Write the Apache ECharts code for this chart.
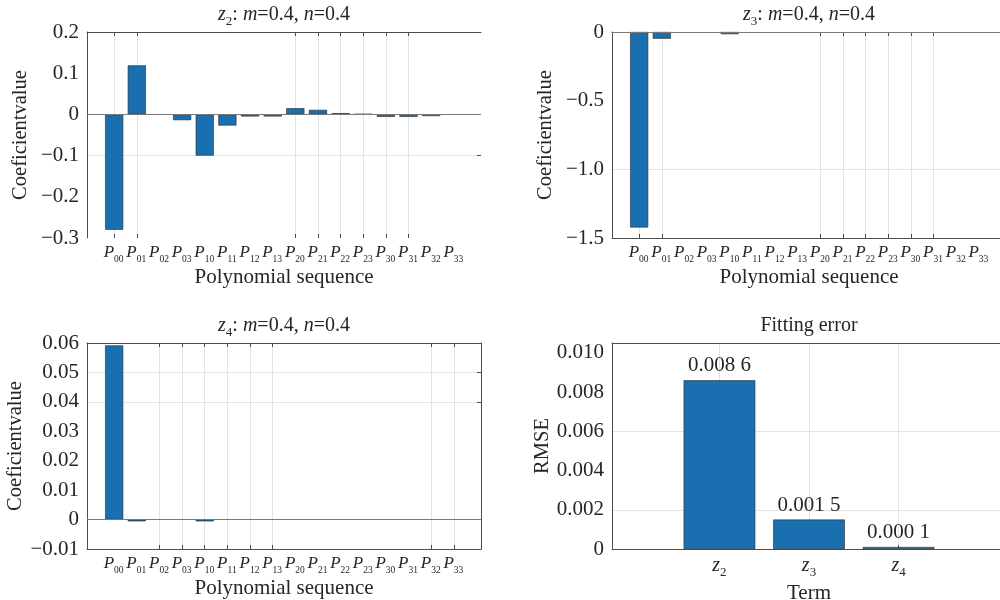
<!DOCTYPE html>
<html>
<head>
<meta charset="utf-8">
<script src="https://cdn.jsdelivr.net/npm/echarts@6/dist/echarts.min.js"></script>
<style>
  html, body { margin: 0; padding: 0; background: #fff; }
  #chart { width: 1000px; height: 600px; }
</style>
</head>
<body>
<div id="chart"></div>
<script>
// 多项式系数（P00 ... P33）
const polyTerms = ['00', '01', '02', '03', '10', '11', '12', '13', '20', '21', '22', '23', '30', '31', '32', '33'];
const z2Coef = [-0.28, 0.119, 0, -0.014, -0.1, -0.027, -0.005, -0.005, 0.015, 0.011, 0.003, 0.001, -0.006, -0.006, -0.004, 0];
const z3Coef = [-1.423, -0.049, 0, 0, -0.016, 0, 0, 0, 0, 0, 0, 0, 0, 0, 0, 0];
const z4Coef = [0.0592, -0.0006, 0, 0, -0.0006, 0, 0, 0, 0, 0, 0, 0, 0, 0, 0, 0];

// 拟合误差
const errTerms = ['2', '3', '4'];
const rmse = [0.0086, 0.0015, 0.0001];
const rmseLabels = ['0.008 6', '0.001 5', '0.000 1'];

// 纵轴刻度与刻度文字
const z2Ticks = [-0.3, -0.2, -0.1, 0, 0.1, 0.2];
const z2TickLabels = ['\u22120.3', '\u22120.2', '\u22120.1', '0', '0.1', '0.2'];
const z3Ticks = [-1.5, -1, -0.5, 0];
const z3TickLabels = ['\u22121.5', '\u22121.0', '\u22120.5', '0'];
const z4Ticks = [-0.01, 0, 0.01, 0.02, 0.03, 0.04, 0.05, 0.06];
const z4TickLabels = ['\u22120.01', '0', '0.01', '0.02', '0.03', '0.04', '0.05', '0.06'];
const rmseTicks = [0, 0.002, 0.004, 0.006, 0.008, 0.01];
const rmseTickLabels = ['0', '0.002', '0.004', '0.006', '0.008', '0.010'];

// 原图中可见的网格线位置（其余被遮挡/缺失）
const z2GridX = [1, 2, 9, 10, 11, 12, 13, 14];
const z2GridY = [-0.1];
const z3GridX = [1, 2, 9, 10, 11, 12, 13, 14];
const z3GridY = [-1];
const z4GridX = [3, 4, 5, 6, 7, 8, 15, 16];
const z4GridY = [0.04, 0.05];
const rmseGridX = [1, 2, 3];
const rmseGridY = [0.002, 0.006];

const FONT = 'Liberation Serif';
const TXT = '#262626';
const AXIS = '#4d4d4d';
const GRIDC = '#e3e3e3';
const BAR = '#1a6fb0';

const rich = {
  i: { fontFamily: FONT, fontStyle: 'italic', fontSize: 20, color: TXT, verticalAlign: 'top', lineHeight: 22 },
  n: { fontFamily: FONT, fontSize: 20, color: TXT, verticalAlign: 'top', lineHeight: 22 },
  s: { fontFamily: FONT, fontSize: 13, color: TXT, verticalAlign: 'top', lineHeight: 14, padding: [10, 0, 0, 0] },
  p: { fontFamily: FONT, fontStyle: 'italic', fontSize: 17, color: TXT, verticalAlign: 'top', lineHeight: 19 },
  ps: { fontFamily: FONT, fontSize: 9.5, color: TXT, verticalAlign: 'top', lineHeight: 10, padding: [10, 1, 0, 0] },
};

function pickLabel(ticks, labels) {
  return v => {
    const i = ticks.findIndex(t => Math.abs(t - v) < 1e-9);
    return i < 0 ? '' : labels[i];
  };
}

// 右侧两幅图在原图中超出画布右边缘，故 width 让其越界
const panels = [
  { grid: { left: 87, top: 32, width: 394, height: 206 }, title: '{i|z}{s|2}{n|: }{i|m}{n|=0.4, }{i|n}{n|=0.4}',
    values: z2Coef, xMax: 17.2, yTicks: z2Ticks, yLabels: z2TickLabels, gridX: z2GridX, gridY: z2GridY,
    box: { top: true, bottom: false, right: false }, yName: 'Coeficientvalue', xName: 'Polynomial sequence' },
  { grid: { left: 612, top: 32, width: 394, height: 206 }, title: '{i|z}{s|3}{n|: }{i|m}{n|=0.4, }{i|n}{n|=0.4}',
    values: z3Coef, xMax: 17.2, yTicks: z3Ticks, yLabels: z3TickLabels, gridX: z3GridX, gridY: z3GridY,
    box: { top: true, bottom: true, right: true }, yName: 'Coeficientvalue', xName: 'Polynomial sequence' },
  { grid: { left: 87, top: 343, width: 394, height: 206 }, title: '{i|z}{s|4}{n|: }{i|m}{n|=0.4, }{i|n}{n|=0.4}',
    values: z4Coef, xMax: 17.2, yTicks: z4Ticks, yLabels: z4TickLabels, gridX: z4GridX, gridY: z4GridY,
    box: { top: true, bottom: true, right: true }, yName: 'Coeficientvalue', xName: 'Polynomial sequence' },
  { grid: { left: 612, top: 343, width: 394, height: 206 }, title: '{n|Fitting error}',
    values: rmse, xMax: 4.2, yTicks: rmseTicks, yLabels: rmseTickLabels, gridX: rmseGridX, gridY: rmseGridY,
    box: { top: true, bottom: true, right: true }, yName: 'RMSE', xName: 'Term', isErr: true },
];

const grids = [], xAxes = [], yAxes = [], series = [];

panels.forEach((pn, k) => {
  grids.push(Object.assign({ outerBoundsMode: 'none', containLabel: false }, pn.grid));
  const yMin = pn.yTicks[0];
  const yMax = pn.isErr ? 0.0105 : pn.yTicks[pn.yTicks.length - 1];
  const catValues = pn.values.map((_, i) => i + 1);

  // 下方 x 轴：刻度文字
  xAxes.push({
    gridIndex: k, type: 'value', min: -0.2, max: pn.xMax,
    axisLine: { show: pn.box.bottom, onZero: false, lineStyle: { color: AXIS } },
    axisTick: { show: true, inside: true, length: 4, customValues: pn.gridX, lineStyle: { color: AXIS } },
    splitLine: { show: false },
    axisLabel: {
      customValues: catValues, margin: pn.isErr ? 7 : 6,
      formatter: v => pn.isErr ? '{i|z}{s|' + errTerms[v - 1] + '}' : '{p|P}{ps|' + polyTerms[v - 1] + '}',
      rich,
    },
    name: pn.xName, nameLocation: 'middle', nameGap: pn.isErr ? 34 : 29,
    nameTextStyle: { fontFamily: FONT, fontSize: 21, color: TXT },
  });
  // 上方 x 轴：框线 + 标题 + 竖向网格线
  xAxes.push({
    gridIndex: k, type: 'value', position: 'top', min: -0.2, max: pn.xMax,
    axisLine: { show: pn.box.top, onZero: false, lineStyle: { color: AXIS } },
    axisTick: { show: !pn.isErr, inside: true, length: 4, customValues: pn.gridX, lineStyle: { color: AXIS } },
    splitLine: { show: true, lineStyle: { color: GRIDC } },
    axisLabel: { show: false },
    name: pn.title, nameLocation: 'middle', nameGap: 5,
    nameTextStyle: { rich },
  });
  // 左 y 轴：刻度文字
  yAxes.push({
    gridIndex: k, type: 'value', min: yMin, max: yMax,
    axisLine: { show: true, onZero: false, lineStyle: { color: AXIS } },
    axisTick: { show: false },
    splitLine: { show: false },
    axisLabel: {
      customValues: pn.yTicks, margin: 8, formatter: pickLabel(pn.yTicks, pn.yLabels),
      fontFamily: FONT, fontSize: 21, color: TXT,
    },
    name: pn.yName, nameLocation: 'middle', nameGap: pn.isErr ? 59 : 56,
    nameTextStyle: { fontFamily: FONT, fontSize: 20.5, color: TXT },
  });
  // 右 y 轴：框线 + 内侧短刻度 + 横向网格线
  yAxes.push({
    gridIndex: k, type: 'value', position: 'right', min: yMin, max: yMax,
    axisLine: { show: pn.box.right, onZero: false, lineStyle: { color: AXIS } },
    axisTick: { show: true, inside: true, length: 4, customValues: pn.gridY, lineStyle: { color: AXIS } },
    splitLine: { show: true, lineStyle: { color: GRIDC } },
    axisLabel: { show: false },
  });

  series.push({
    type: 'bar', xAxisIndex: 2 * k, yAxisIndex: 2 * k,
    data: pn.values.map((v, i) => ({
      value: [i + 1, v],
      itemStyle: { borderWidth: v === 0 ? 0 : 0.6 },
    })),
    barWidth: '80%',
    itemStyle: { color: BAR, borderColor: '#2a2a2a' },
    label: pn.isErr ? {
      show: true, position: 'top', distance: 4,
      formatter: p => rmseLabels[p.dataIndex],
      fontFamily: FONT, fontSize: 21, color: TXT,
    } : { show: false },
    markLine: pn.isErr ? undefined : {
      silent: true, symbol: 'none', label: { show: false },
      lineStyle: { color: '#7a7a7a', width: 1, type: 'solid' },
      data: [{ yAxis: 0 }],
    },
  });
});

const chart = echarts.init(document.getElementById('chart'), null, { renderer: 'canvas' });
chart.setOption({
  animation: false,
  backgroundColor: '#fff',
  grid: grids,
  xAxis: xAxes,
  yAxis: yAxes,
  series: series,
});
</script>
</body>
</html>
